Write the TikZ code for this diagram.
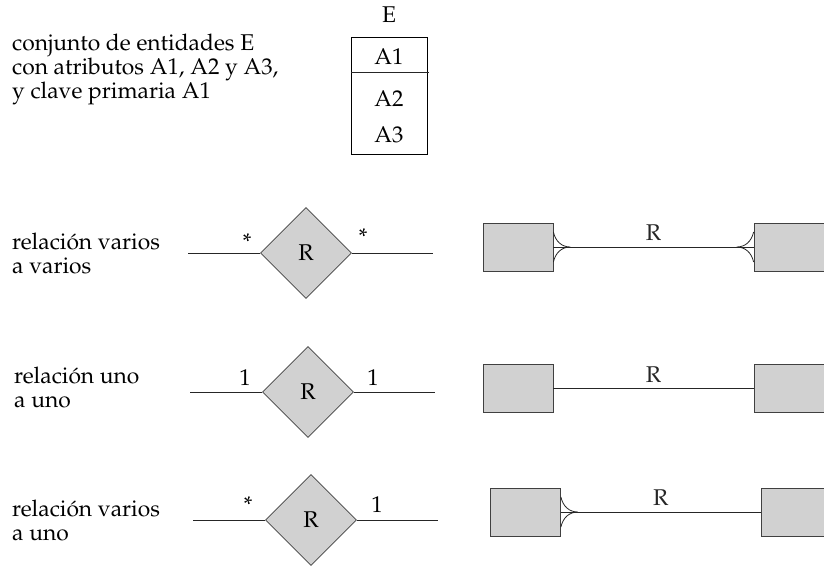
\documentclass[tikz,border=0pt]{standalone}
\usepackage[T1]{fontenc}
\usepackage{mathpazo}
\usetikzlibrary{shapes.geometric}

% pata de gallo: #1 punto en el borde de la entidad, #2 = 1 (derecha) o -1 (izquierda)
\newcommand{\pata}[2]{%
  \draw [linea] ([yshift=15]#1) .. controls +(2*#2,9) and +(-9*#2,0) .. ([xshift=17*#2]#1)
        .. controls +(-9*#2,0) and +(2*#2,-9) .. ([yshift=-15]#1);
}

\begin{document}
\begin{tikzpicture}
  [
    x=1pt, y=-1pt,
    every node/.style={font=\fontsize{22.8}{24}\selectfont},
    linea/.style={line width=0.8pt, black!85},
    entidad/.style={draw=black!75, line width=0.8pt, fill=black!18, minimum width=70, minimum height=48, inner sep=0},
    rel/.style={diamond, draw=black!75, line width=0.8pt, fill=black!18, minimum width=91, minimum height=91, inner sep=0},
    texto/.style={align=left, anchor=west, inner sep=0},
  ]
    \useasboundingbox (0,0) rectangle (824,566);

    % conjunto de entidades
    \node [texto] (desc) at (12,69) {conjunto de entidades E\\con atributos A1, A2 y A3,\\y clave primaria A1};
    \node [draw, line width=0.8pt, minimum width=76, minimum height=117, inner sep=0] (E) at (389,95.5) {};
    \node (Enom) at (389,15) {E};
    \node (a1) at (389,57) {A1};
    \node (a2) at (389,99) {A2};
    \node (a3) at (389,135) {A3};
    \draw [linea] (351,72) -- (429,72);

    % varios a varios
    \node [texto] (t1) at (12,253) {relaci\'on varios\\a varios};
    \node [rel] (r1) at (306,253) {R};
    \coordinate (r1a) at (188,253);
    \coordinate (r1b) at (433,253);
    \draw [linea] (r1a) -- (r1.west);
    \draw [linea] (r1.east) -- (r1b);
    \node (m1a) at (247,242) {*};
    \node (m1b) at (363,237) {*};
    \node [entidad] (e1a) at (518,247) {};
    \node [entidad] (e1b) at (789,247) {};
    \draw [linea] (e1a) -- node [above, inner sep=6] {R} (e1b);
    \pata{e1a.east}{1}
    \pata{e1b.west}{-1}

    % uno a uno
    \node [texto] (t2) at (14,387) {relaci\'on uno\\a uno};
    \node [rel] (r2) at (308,392) {R};
    \coordinate (r2a) at (190,392);
    \coordinate (r2b) at (435,392);
    \draw [linea] (r2a) -- (r2.west);
    \draw [linea] (r2.east) -- (r2b);
    \node (u2a) at (245,378) {1};
    \node (u2b) at (373,378) {1};
    \node [entidad] (e2a) at (518,388.5) {};
    \node [entidad] (e2b) at (789,388.5) {};
    \draw [linea] (e2a) -- node [above, inner sep=6] {R} (e2b);

    % varios a uno
    \node [texto] (t3) at (12,520) {relaci\'on varios\\a uno};
    \node [rel] (r3) at (311,520) {R};
    \coordinate (r3a) at (193,520);
    \coordinate (r3b) at (438,520);
    \draw [linea] (r3a) -- (r3.west);
    \draw [linea] (r3.east) -- (r3b);
    \node (m3a) at (248,505) {*};
    \node (u3b) at (377,505) {1};
    \node [entidad] (e3a) at (525.5,512) {};
    \node [entidad] (e3b) at (796,512) {};
    \draw [linea] (e3a) -- node [above, inner sep=6] {R} (e3b);
    \pata{e3a.east}{1}
  \end{tikzpicture}
\end{document}
